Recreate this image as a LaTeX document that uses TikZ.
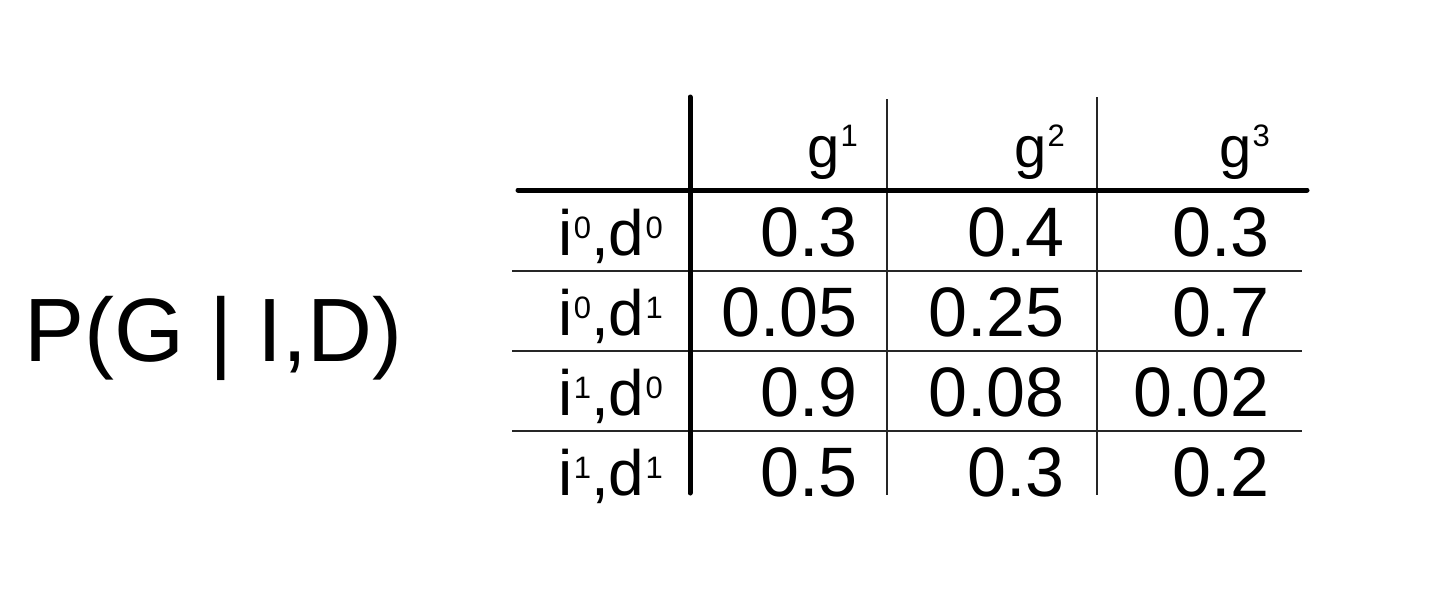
\documentclass[tikz,border=0pt]{standalone}
\usepackage{fontspec}
\setmainfont{Liberation Sans}
\newcommand\supx[2]{\raisebox{#1pt}{\fontsize{31}{31}\selectfont\kern1pt #2}}
\tikzset{
  thickrule/.style={line width=5pt, draw=black},
  thinrule/.style={line width=2.8pt, draw=black!85},
  cell/.style={anchor=base east, inner sep=0pt, font=\fontsize{70}{80}\selectfont},
  rowlab/.style={anchor=base east, inner sep=0pt, font=\fontsize{64}{72}\selectfont},
  colhead/.style={anchor=base east, inner sep=0pt, font=\fontsize{58}{66}\selectfont},
  title/.style={anchor=base west, inner sep=0pt, font=\fontsize{90}{100}\selectfont}
}
\begin{document}
\begin{tikzpicture}[x=1pt,y=-1pt]
\useasboundingbox[fill=white] (0,0) rectangle (1456,614);
% title
\node[title] (ttl) at (24,361) {P(G | I,D)};
% grid coordinates
\coordinate (vt) at (690,97);  \coordinate (vb) at (690,493);
\coordinate (v1t) at (887,99); \coordinate (v1b) at (887,495);
\coordinate (v2t) at (1097,97); \coordinate (v2b) at (1097,495);
\coordinate (hl) at (518,190); \coordinate (hr) at (1307,190);
\coordinate (h1l) at (512,271); \coordinate (h1r) at (1302,271);
\coordinate (h2l) at (512,351); \coordinate (h2r) at (1302,351);
\coordinate (h3l) at (512,431); \coordinate (h3r) at (1302,431);
\draw[thinrule] (v1t) -- (v1b);
\draw[thinrule] (v2t) -- (v2b);
\draw[thinrule] (h1l) -- (h1r);
\draw[thinrule] (h2l) -- (h2r);
\draw[thinrule] (h3l) -- (h3r);
\draw[thickrule, line cap=round] (hl) -- (hr);
\draw[thickrule, line cap=round] (vt) -- (vb);
% column heads
\node[colhead] (g1) at (858,167) {g\supx{21}{1}};
\node[colhead] (g2) at (1065,167) {g\supx{21}{2}};
\node[colhead] (g3) at (1270,167) {g\supx{21}{3}};
% row labels
\node[rowlab] (r1) at (663,255) {i\supx{17}{0},d\supx{17}{0}};
\node[rowlab] (r2) at (663,335) {i\supx{17}{0},d\supx{17}{1}};
\node[rowlab] (r3) at (663,415) {i\supx{17}{1},d\supx{17}{0}};
\node[rowlab] (r4) at (663,495) {i\supx{17}{1},d\supx{17}{1}};
% cells
\node[cell] (c11) at (858,256) {0.3};
\node[cell] (c12) at (1065,256) {0.4};
\node[cell] (c13) at (1270,256) {0.3};
\node[cell] (c21) at (858,336) {0.05};
\node[cell] (c22) at (1065,336) {0.25};
\node[cell] (c23) at (1270,336) {0.7};
\node[cell] (c31) at (858,416) {0.9};
\node[cell] (c32) at (1065,416) {0.08};
\node[cell] (c33) at (1270,416) {0.02};
\node[cell] (c41) at (858,496) {0.5};
\node[cell] (c42) at (1065,496) {0.3};
\node[cell] (c43) at (1270,496) {0.2};
\end{tikzpicture}
\end{document}
